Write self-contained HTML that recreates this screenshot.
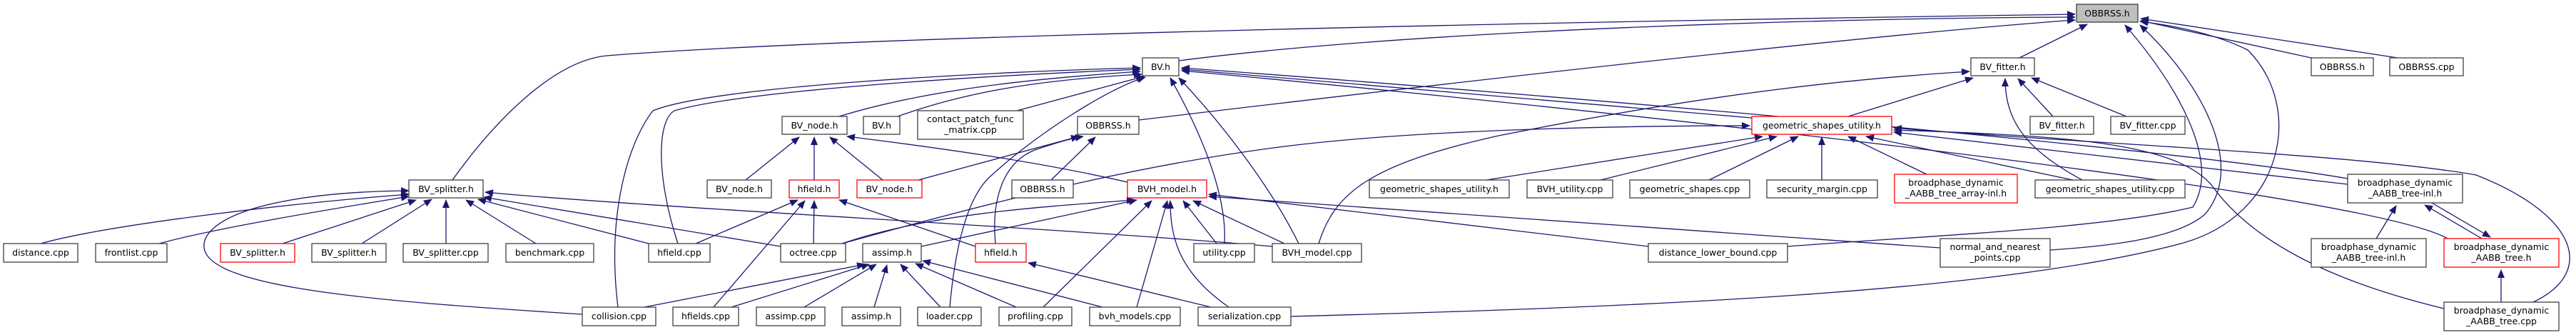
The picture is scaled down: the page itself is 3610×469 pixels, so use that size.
<!DOCTYPE html>
<html><head><meta charset="utf-8"><style>
html,body{margin:0;padding:0;background:#fff;}
svg{display:block;}
text{font-family:"DejaVu Sans","Liberation Sans",sans-serif;font-size:12.5px;fill:#000;}
.e{fill:none;stroke:#191970;stroke-width:1.3;}
</style></head><body>
<svg width="3610" height="469" viewBox="0 0 3610 469" xmlns="http://www.w3.org/2000/svg">
<defs><marker id="a" markerWidth="12" markerHeight="10" refX="11" refY="5" orient="auto" markerUnits="userSpaceOnUse"><path d="M0,0 L12,5 L0,10 z" fill="#191970"/></marker></defs>
<g id="edges" marker-end="url(#a)">
<path class="e" marker-end="url(#a)" d="M57,341 C150,315 400,285 573,272"/>
<path class="e" marker-end="url(#a)" d="M223,341 C300,320 450,295 573,275"/>
<path class="e" marker-end="url(#a)" d="M396,341 L583,280"/>
<path class="e" marker-end="url(#a)" d="M507,341 L605,279"/>
<path class="e" marker-end="url(#a)" d="M625,341 L625,280"/>
<path class="e" marker-end="url(#a)" d="M751,341 L653,280"/>
<path class="e" marker-end="url(#a)" d="M909,341 L670,279"/>
<path class="e" marker-end="url(#a)" d="M1094,345 L678,276"/>
<path class="e" marker-end="url(#a)" d="M1783,345 C1500,320 900,290 680,269"/>
<path class="e" marker-end="url(#a)" d="M816,440 C500,420 250,400 290,330 C320,285 450,268 573,267"/>
<path class="e" marker-end="url(#a)" d="M634,252 C700,160 780,85 850,78 C1200,50 2200,30 2908,20"/>
<path class="e" marker-end="url(#a)" d="M1176,163 C1300,125 1450,110 1598,100"/>
<path class="e" marker-end="url(#a)" d="M1258,163 C1350,130 1450,112 1600,104"/>
<path class="e" marker-end="url(#a)" d="M1425,155 L1603,107"/>
<path class="e" marker-end="url(#a)" d="M950,341 C920,250 920,170 945,155 C1050,125 1400,105 1598,97"/>
<path class="e" marker-end="url(#a)" d="M866,430 C850,300 880,200 915,155 C1000,120 1400,100 1598,95"/>
<path class="e" marker-end="url(#a)" d="M1331,430 C1340,330 1360,270 1390,245 C1450,190 1550,125 1605,108"/>
<path class="e" marker-end="url(#a)" d="M1716,341 C1720,270 1680,180 1640,109"/>
<path class="e" marker-end="url(#a)" d="M1820,341 C1780,260 1710,170 1652,109"/>
<path class="e" marker-end="url(#a)" d="M2455,165 L1656,97"/>
<path class="e" marker-end="url(#a)" d="M3290,250 C3000,200 2000,120 1656,95"/>
<path class="e" marker-end="url(#a)" d="M3430,334 C3300,260 2000,130 1656,99"/>
<path class="e" marker-end="url(#a)" d="M1652,85 C2000,40 2600,25 2908,24"/>
<path class="e" marker-end="url(#a)" d="M1045,252 L1120,192"/>
<path class="e" marker-end="url(#a)" d="M1141,252 L1141,192"/>
<path class="e" marker-end="url(#a)" d="M1237,252 L1163,192"/>
<path class="e" marker-end="url(#a)" d="M1580,255 C1450,225 1300,205 1187,191"/>
<path class="e" marker-end="url(#a)" d="M1287,252 L1512,191"/>
<path class="e" marker-end="url(#a)" d="M1395,341 C1390,290 1400,230 1450,210 C1480,200 1500,194 1518,191"/>
<path class="e" marker-end="url(#a)" d="M1473,252 L1535,192"/>
<path class="e" marker-end="url(#a)" d="M1596,168 C2000,120 2600,50 2908,28"/>
<path class="e" marker-end="url(#a)" d="M975,341 L1118,280"/>
<path class="e" marker-end="url(#a)" d="M1000,430 L1128,281"/>
<path class="e" marker-end="url(#a)" d="M1140,341 L1141,281"/>
<path class="e" marker-end="url(#a)" d="M1367,345 L1176,280"/>
<path class="e" marker-end="url(#a)" d="M1180,341 C1300,300 1450,290 1590,280"/>
<path class="e" marker-end="url(#a)" d="M1291,345 L1593,280"/>
<path class="e" marker-end="url(#a)" d="M1462,430 L1614,281"/>
<path class="e" marker-end="url(#a)" d="M1593,430 L1636,281"/>
<path class="e" marker-end="url(#a)" d="M1722,430 C1650,380 1640,330 1640,281"/>
<path class="e" marker-end="url(#a)" d="M1705,341 L1658,281"/>
<path class="e" marker-end="url(#a)" d="M1800,341 L1672,281"/>
<path class="e" marker-end="url(#a)" d="M2310,345 L1694,272"/>
<path class="e" marker-end="url(#a)" d="M2719,347 C2200,310 1800,280 1694,275"/>
<path class="e" marker-end="url(#a)" d="M903,430 L1212,370"/>
<path class="e" marker-end="url(#a)" d="M1025,430 L1218,370"/>
<path class="e" marker-end="url(#a)" d="M1127,430 L1228,370"/>
<path class="e" marker-end="url(#a)" d="M1225,430 L1243,371"/>
<path class="e" marker-end="url(#a)" d="M1318,430 L1262,370"/>
<path class="e" marker-end="url(#a)" d="M1424,430 L1283,369"/>
<path class="e" marker-end="url(#a)" d="M1545,430 L1293,365"/>
<path class="e" marker-end="url(#a)" d="M1697,430 L1441,368"/>
<path class="e" marker-end="url(#a)" d="M2083,252 L2470,191"/>
<path class="e" marker-end="url(#a)" d="M2243,252 L2490,191"/>
<path class="e" marker-end="url(#a)" d="M2395,252 L2520,191"/>
<path class="e" marker-end="url(#a)" d="M2553,252 L2553,192"/>
<path class="e" marker-end="url(#a)" d="M2700,244 L2590,191"/>
<path class="e" marker-end="url(#a)" d="M2905,252 L2615,191"/>
<path class="e" marker-end="url(#a)" d="M3290,258 L2654,185"/>
<path class="e" marker-end="url(#a)" d="M1180,341 C1400,280 1600,230 1800,205 C2000,180 2300,176 2452,176"/>
<path class="e" marker-end="url(#a)" d="M1848,341 C1870,270 1920,230 2100,190 C2400,130 2600,110 2760,100"/>
<path class="e" marker-end="url(#a)" d="M3425,432 C3250,390 3150,330 3100,260 C3050,200 2900,190 2654,182"/>
<path class="e" marker-end="url(#a)" d="M3550,423 C3640,380 3610,300 3470,245 C3300,215 2900,200 2654,179"/>
<path class="e" marker-end="url(#a)" d="M2590,163 L2765,109"/>
<path class="e" marker-end="url(#a)" d="M2877,163 L2828,110"/>
<path class="e" marker-end="url(#a)" d="M2980,163 L2847,109"/>
<path class="e" marker-end="url(#a)" d="M2918,252 C2840,210 2810,170 2810,110"/>
<path class="e" marker-end="url(#a)" d="M2830,81 L2925,34"/>
<path class="e" marker-end="url(#a)" d="M3239,81 L3000,29"/>
<path class="e" marker-end="url(#a)" d="M3360,81 L3000,26"/>
<path class="e" marker-end="url(#a)" d="M2505,345 C2700,330 2950,320 3073,290 C3110,230 3060,130 2978,35"/>
<path class="e" marker-end="url(#a)" d="M2873,350 C2950,345 3050,335 3090,300 C3150,230 3080,110 2999,35"/>
<path class="e" marker-end="url(#a)" d="M1809,443 C2300,430 2800,410 3060,340 C3200,300 3230,150 3150,70 C3100,45 3040,35 2999,30"/>
<path class="e" marker-end="url(#a)" d="M3330,334 L3358,288"/>
<path class="e" marker-end="url(#a)" d="M3478,334 L3398,287"/>
<path class="e" marker-end="url(#a)" d="M3408,284 L3490,332"/>
<path class="e" marker-end="url(#a)" d="M3505,423 L3505,378"/>
</g>
<g id="nodes" stroke-width="1.3">
<rect x="2910" y="6" width="86" height="25" fill="#bfbfbf" stroke="#404040"/><text x="2953" y="23" text-anchor="middle">OBBRSS.h</text>
<rect x="1601" y="81" width="51" height="25" fill="#fff" stroke="#404040"/><text x="1626.5" y="98" text-anchor="middle">BV.h</text>
<rect x="2762" y="81" width="89" height="25" fill="#fff" stroke="#404040"/><text x="2806.5" y="98" text-anchor="middle">BV_fitter.h</text>
<rect x="3239" y="81" width="87" height="25" fill="#fff" stroke="#404040"/><text x="3282.5" y="98" text-anchor="middle">OBBRSS.h</text>
<rect x="3349" y="81" width="103" height="25" fill="#fff" stroke="#404040"/><text x="3400.5" y="98" text-anchor="middle">OBBRSS.cpp</text>
<rect x="1096" y="163" width="91" height="25" fill="#fff" stroke="#404040"/><text x="1141.5" y="180" text-anchor="middle">BV_node.h</text>
<rect x="1210" y="163" width="51" height="25" fill="#fff" stroke="#404040"/><text x="1235.5" y="180" text-anchor="middle">BV.h</text>
<rect x="1286" y="155" width="148" height="40" fill="#fff" stroke="#404040"/><text x="1360" y="171" text-anchor="middle">contact_patch_func</text><text x="1360" y="186" text-anchor="middle">_matrix.cpp</text>
<rect x="1510" y="163" width="86" height="25" fill="#fff" stroke="#404040"/><text x="1553" y="180" text-anchor="middle">OBBRSS.h</text>
<rect x="2455" y="163" width="196" height="25" fill="#fff" stroke="#ff0000"/><text x="2553" y="180" text-anchor="middle">geometric_shapes_utility.h</text>
<rect x="2845" y="163" width="89" height="25" fill="#fff" stroke="#404040"/><text x="2889.5" y="180" text-anchor="middle">BV_fitter.h</text>
<rect x="2958" y="163" width="104" height="25" fill="#fff" stroke="#404040"/><text x="3010" y="180" text-anchor="middle">BV_fitter.cpp</text>
<rect x="573" y="252" width="104" height="25" fill="#fff" stroke="#404040"/><text x="625" y="269" text-anchor="middle">BV_splitter.h</text>
<rect x="991" y="252" width="90" height="25" fill="#fff" stroke="#404040"/><text x="1036" y="269" text-anchor="middle">BV_node.h</text>
<rect x="1106" y="252" width="70" height="25" fill="#fff" stroke="#ff0000"/><text x="1141" y="269" text-anchor="middle">hfield.h</text>
<rect x="1201" y="252" width="91" height="25" fill="#fff" stroke="#ff0000"/><text x="1246.5" y="269" text-anchor="middle">BV_node.h</text>
<rect x="1418" y="252" width="86" height="25" fill="#fff" stroke="#404040"/><text x="1461" y="269" text-anchor="middle">OBBRSS.h</text>
<rect x="1580" y="252" width="111" height="25" fill="#fff" stroke="#ff0000"/><text x="1635.5" y="269" text-anchor="middle">BVH_model.h</text>
<rect x="1919" y="252" width="196" height="25" fill="#fff" stroke="#404040"/><text x="2017" y="269" text-anchor="middle">geometric_shapes_utility.h</text>
<rect x="2140" y="252" width="120" height="25" fill="#fff" stroke="#404040"/><text x="2200" y="269" text-anchor="middle">BVH_utility.cpp</text>
<rect x="2284" y="252" width="168" height="25" fill="#fff" stroke="#404040"/><text x="2368" y="269" text-anchor="middle">geometric_shapes.cpp</text>
<rect x="2476" y="252" width="155" height="25" fill="#fff" stroke="#404040"/><text x="2553.5" y="269" text-anchor="middle">security_margin.cpp</text>
<rect x="2655" y="244" width="172" height="40" fill="#fff" stroke="#ff0000"/><text x="2741" y="260" text-anchor="middle">broadphase_dynamic</text><text x="2741" y="275" text-anchor="middle">_AABB_tree_array-inl.h</text>
<rect x="2852" y="252" width="210" height="25" fill="#fff" stroke="#404040"/><text x="2957" y="269" text-anchor="middle">geometric_shapes_utility.cpp</text>
<rect x="3290" y="244" width="161" height="40" fill="#fff" stroke="#404040"/><text x="3370.5" y="260" text-anchor="middle">broadphase_dynamic</text><text x="3370.5" y="275" text-anchor="middle">_AABB_tree-inl.h</text>
<rect x="5" y="341" width="104" height="26" fill="#fff" stroke="#404040"/><text x="57" y="358" text-anchor="middle">distance.cpp</text>
<rect x="134" y="341" width="100" height="26" fill="#fff" stroke="#404040"/><text x="184" y="358" text-anchor="middle">frontlist.cpp</text>
<rect x="309" y="341" width="104" height="26" fill="#fff" stroke="#ff0000"/><text x="361" y="358" text-anchor="middle">BV_splitter.h</text>
<rect x="437" y="341" width="104" height="26" fill="#fff" stroke="#404040"/><text x="489" y="358" text-anchor="middle">BV_splitter.h</text>
<rect x="565" y="341" width="119" height="26" fill="#fff" stroke="#404040"/><text x="624.5" y="358" text-anchor="middle">BV_splitter.cpp</text>
<rect x="709" y="341" width="123" height="26" fill="#fff" stroke="#404040"/><text x="770.5" y="358" text-anchor="middle">benchmark.cpp</text>
<rect x="909" y="341" width="86" height="26" fill="#fff" stroke="#404040"/><text x="952" y="358" text-anchor="middle">hfield.cpp</text>
<rect x="1094" y="341" width="91" height="26" fill="#fff" stroke="#404040"/><text x="1139.5" y="358" text-anchor="middle">octree.cpp</text>
<rect x="1209" y="341" width="82" height="26" fill="#fff" stroke="#404040"/><text x="1250" y="358" text-anchor="middle">assimp.h</text>
<rect x="1367" y="341" width="71" height="26" fill="#fff" stroke="#ff0000"/><text x="1402.5" y="358" text-anchor="middle">hfield.h</text>
<rect x="1673" y="341" width="85" height="26" fill="#fff" stroke="#404040"/><text x="1715.5" y="358" text-anchor="middle">utility.cpp</text>
<rect x="1783" y="341" width="125" height="26" fill="#fff" stroke="#404040"/><text x="1845.5" y="358" text-anchor="middle">BVH_model.cpp</text>
<rect x="2310" y="341" width="195" height="26" fill="#fff" stroke="#404040"/><text x="2407.5" y="358" text-anchor="middle">distance_lower_bound.cpp</text>
<rect x="2719" y="334" width="154" height="40" fill="#fff" stroke="#404040"/><text x="2796" y="350" text-anchor="middle">normal_and_nearest</text><text x="2796" y="365" text-anchor="middle">_points.cpp</text>
<rect x="3239" y="334" width="161" height="40" fill="#fff" stroke="#404040"/><text x="3319.5" y="350" text-anchor="middle">broadphase_dynamic</text><text x="3319.5" y="365" text-anchor="middle">_AABB_tree-inl.h</text>
<rect x="3425" y="334" width="161" height="40" fill="#fff" stroke="#ff0000"/><text x="3505.5" y="350" text-anchor="middle">broadphase_dynamic</text><text x="3505.5" y="365" text-anchor="middle">_AABB_tree.h</text>
<rect x="816" y="430" width="103" height="26" fill="#fff" stroke="#404040"/><text x="867.5" y="447" text-anchor="middle">collision.cpp</text>
<rect x="943" y="430" width="92" height="26" fill="#fff" stroke="#404040"/><text x="989" y="447" text-anchor="middle">hfields.cpp</text>
<rect x="1060" y="430" width="96" height="26" fill="#fff" stroke="#404040"/><text x="1108" y="447" text-anchor="middle">assimp.cpp</text>
<rect x="1180" y="430" width="82" height="26" fill="#fff" stroke="#404040"/><text x="1221" y="447" text-anchor="middle">assimp.h</text>
<rect x="1286" y="430" width="89" height="26" fill="#fff" stroke="#404040"/><text x="1330.5" y="447" text-anchor="middle">loader.cpp</text>
<rect x="1400" y="430" width="102" height="26" fill="#fff" stroke="#404040"/><text x="1451" y="447" text-anchor="middle">profiling.cpp</text>
<rect x="1527" y="430" width="127" height="26" fill="#fff" stroke="#404040"/><text x="1590.5" y="447" text-anchor="middle">bvh_models.cpp</text>
<rect x="1679" y="430" width="130" height="26" fill="#fff" stroke="#404040"/><text x="1744" y="447" text-anchor="middle">serialization.cpp</text>
<rect x="3425" y="423" width="161" height="40" fill="#fff" stroke="#404040"/><text x="3505.5" y="439" text-anchor="middle">broadphase_dynamic</text><text x="3505.5" y="454" text-anchor="middle">_AABB_tree.cpp</text>
</g>
</svg>
</body></html>
